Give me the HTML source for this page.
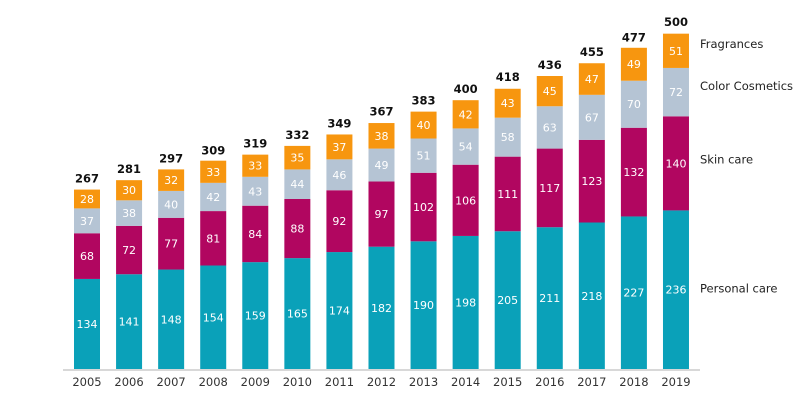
<!DOCTYPE html>
<html><head><meta charset="utf-8"><style>
html,body{margin:0;padding:0;background:#fff;}
svg text{font-family:"DejaVu Sans","Liberation Sans",sans-serif;}
</style></head><body>
<svg id="chart" width="800" height="405" viewBox="0 0 800 405">
<line x1="63" y1="370" x2="700" y2="370" stroke="#b0b0b0" stroke-width="1"/>
<g id="bars"></g>
<g id="legend"></g>
</svg>
<script>
const years = ["2005","2006","2007","2008","2009","2010","2011","2012","2013","2014","2015","2016","2017","2018","2019"];
const personalCare = [134,141,148,154,159,165,174,182,190,198,205,211,218,227,236];
const skinCare = [68,72,77,81,84,88,92,97,102,106,111,117,123,132,140];
const colorCosmetics = [37,38,40,42,43,44,46,49,51,54,58,63,67,70,72];
const fragrances = [28,30,32,33,33,35,37,38,40,42,43,45,47,49,51];
const totals = [267,281,297,309,319,332,349,367,383,400,418,436,455,477,500];
const seriesNames = ["Personal care","Skin care","Color Cosmetics","Fragrances"];

const NS="http://www.w3.org/2000/svg";
const series=[personalCare,skinCare,colorCosmetics,fragrances];
const colors=["#0aa1b9","#b10660","#b5c4d4","#f7960f"];
const legendOffsets=[-1,-4,-6,-7];
const baseY=369, scale=0.672, x0=74, step=42.07, bw=26;
const xPos=i=>x0+i*step;
const yPos=v=>baseY-v*scale;
const bars=document.getElementById('bars');
function mk(tag,attrs,parent){const e=document.createElementNS(NS,tag);for(const k in attrs)e.setAttribute(k,attrs[k]);parent.appendChild(e);return e;}
years.forEach((yr,i)=>{
  let cum=0;
  series.forEach((s,si)=>{
    const v=s[i];
    const r=mk('rect',{x:xPos(i),y:yPos(cum+v),width:bw,height:v*scale,fill:colors[si]},bars);
    
    
    const t=mk('text',{x:xPos(i)+bw/2,y:yPos(cum+v/2)+4,'text-anchor':'middle','font-size':'11',fill:'#fff'},bars);
    t.textContent=v;
    
    
    cum+=v;
  });
  const tt=mk('text',{x:xPos(i)+bw/2,y:yPos(totals[i])-7,'text-anchor':'middle','font-size':'11.5','font-weight':'bold',fill:'#111'},bars);
  tt.textContent=totals[i];
  
  
  const yl=mk('text',{x:xPos(i)+bw/2,y:386,'text-anchor':'middle','font-size':'11.5',fill:'#333'},bars);
  yl.textContent=yr;
  
  
});
const legend=document.getElementById('legend');
const last=years.length-1;
let cum=0;
series.forEach((s,si)=>{
  const v=s[last];
  const t=mk('text',{x:700,y:yPos(cum+v/2)+4+legendOffsets[si],'font-size':'11.5',fill:'#222'},legend);
  t.textContent=seriesNames[si];
  
  
  cum+=v;
});
</script>
</body></html>
